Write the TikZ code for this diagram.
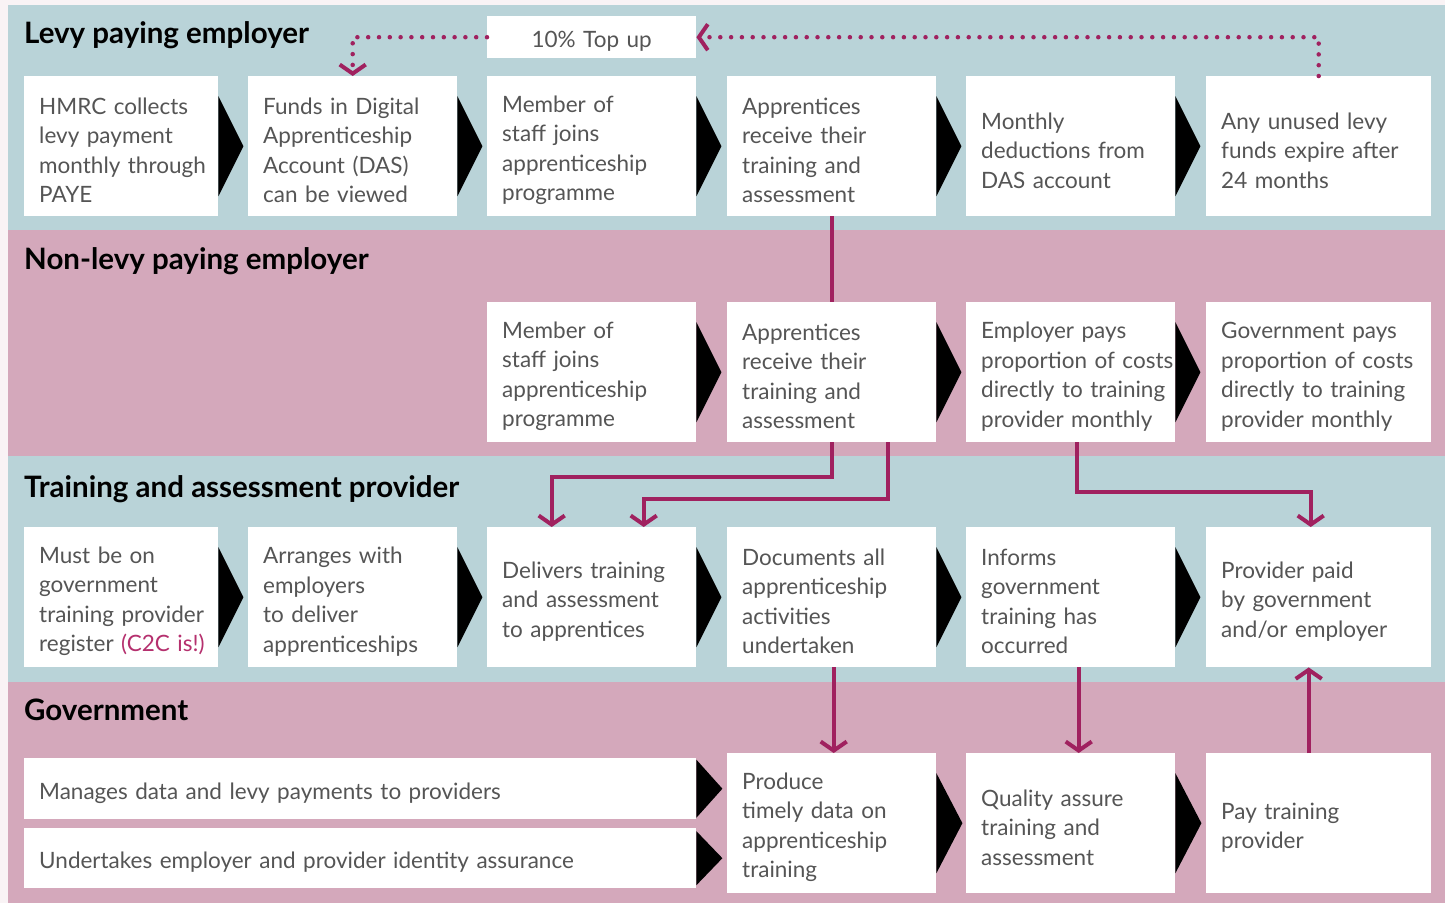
\documentclass[tikz,border=0pt]{standalone}
\usepackage{fontspec}
\setmainfont{Lato}
\usepackage{xcolor}
\usepackage{tikz}
\usetikzlibrary{positioning,arrows.meta}

\definecolor{levyblue}{HTML}{B9D3D8}
\definecolor{levypink}{HTML}{D4A8BB}
\definecolor{plum}{HTML}{A0215F}
\definecolor{cc}{HTML}{B5306E}
\definecolor{inkgray}{HTML}{555555}
\definecolor{pagetint}{HTML}{F9F3F5}

\begin{document}
\begin{tikzpicture}[x=1pt,y=-1pt,
  stage/.style={fill=white, anchor=north west, minimum height=140pt,
    minimum width=209pt, text width=179pt, inner xsep=15pt, inner ysep=0pt,
    align=left, text=inkgray, font=\fontsize{22.5}{29.5}\selectfont,
    execute at begin node={\hyphenpenalty=10000\exhyphenpenalty=10000\rule{0pt}{25pt}}},
  narrow/.style={minimum width=194pt, text width=164pt},
  broad/.style={minimum width=225pt, text width=195pt},
  strip/.style={stage, minimum width=672pt, text width=642pt},
  lane/.style={anchor=base west, inner sep=0pt, font=\bfseries\fontsize{29.5}{32}\selectfont},
  flow/.style={draw=plum, line width=4pt, -{Straight Barb[length=9pt,width=26pt]}},
  dots/.style={draw=plum, line width=4.5pt, line cap=round, dash pattern=on 0pt off 10.8pt,
    -{Straight Barb[length=9pt,width=26pt,line width=4pt]}}
]
\useasboundingbox (0,0) rectangle (1445,903);
\fill[pagetint] (0,0) rectangle (1445,903);
% four lanes
\fill[levyblue] (8,5) rectangle (1445,230);
\fill[levypink] (8,230) rectangle (1445,456);
\fill[levyblue] (8,456) rectangle (1445,682);
\fill[levypink] (8,682) rectangle (1445,903);

\node[lane] (l1) at (24,43) {Levy paying employer};
\node[lane] (l2) at (24,269) {Non-levy paying employer};
\node[lane] (l3) at (24,497) {Training and assessment provider};
\node[lane] (l4) at (24,720) {Government};

% levy paying employer
\node[stage, minimum height=42pt, align=center] (topup) at (487,16) {10\% Top up};
\node[stage, narrow] (hmrc) at (24,76) {HMRC collects\\levy payment\\monthly~through\\PAYE};
\node[stage] (das) at (248,76) {Funds in Digital\\Apprenticeship\\Account (DAS)\\can be viewed};
\node[stage] (joinL) at (487,76) {Member of\\staff joins\\apprenticeship\\programme};
\node[stage] (trainL) at (727,76) {Apprentices\\receive their\\training and\\assessment};
\node[stage] (deduct) at (966,76) {Monthly\\deductions~from\\DAS account};
\node[stage, broad] (expire) at (1206,76) {Any unused levy\\funds~expire~after\\24 months};

% non-levy paying employer
\node[stage] (joinN) at (487,302) {Member of\\staff joins\\apprenticeship\\programme};
\node[stage] (trainN) at (727,302) {Apprentices\\receive their\\training and\\assessment};
\node[stage] (emppays) at (966,302) {Employer pays\\proportion~of~costs\\directly~to~training\\provider monthly};
\node[stage, broad] (govpays) at (1206,302) {Government pays\\proportion~of~costs\\directly~to~training\\provider monthly};

% provider
\node[stage, narrow] (register) at (24,527) {Must be on\\government\\training~provider\\register~\textcolor{cc}{(C2C~is!)}};
\node[stage] (arranges) at (248,527) {Arranges with\\employers\\to deliver\\apprenticeships};
\node[stage] (delivers) at (487,527) {Delivers~training\\and~assessment\\to apprentices};
\node[stage] (documents) at (727,527) {Documents all\\apprenticeship\\activities\\undertaken};
\node[stage] (informs) at (966,527) {Informs\\government\\training has\\occurred};
\node[stage, broad] (paid) at (1206,527) {Provider paid\\by government\\and/or employer};

% government
\node[strip, minimum height=61pt] (manages) at (24,758) {Manages data and levy payments to providers};
\node[strip, minimum height=60pt] (identity) at (24,828) {Undertakes employer and provider identity assurance};
\node[stage] (produce) at (727,753) {Produce\\timely~data~on\\apprenticeship\\training};
\node[stage] (quality) at (966,753) {Quality assure\\training and\\assessment};
\node[stage, broad] (pay) at (1206,753) {Pay training\\provider};

% black step arrows
\foreach \n/\h/\w in {hmrc/50/25, das/50/25, joinL/50/25, trainL/50/25, deduct/50/25,
    joinN/50/25, trainN/50/25, emppays/50/25,
    register/50/25, arranges/50/25, delivers/50/25, documents/50/25, informs/50/25,
    produce/50/26, quality/50/26, manages/29/26, identity/27/26}
  \fill[black] (\n.east) ++(0,-\h) -- ++(\w,\h) -- ++(-\w,\h) -- cycle;

% top up loop
\draw[dots] (topup.west) -| (das.north);
\draw[dots] (expire.north) |- (topup.east);

% money and data flows
\draw[draw=plum, line width=4pt] (trainL.south) -- (trainN.north);
\draw[flow] (trainN.south) -- ++(0,35) -| ([xshift=-40pt]delivers.north);
\draw[flow] ([xshift=56pt]trainN.south) -- ++(0,57) -| ([xshift=52pt]delivers.north);
\draw[flow] ([xshift=6pt]emppays.south) -- ++(0,50) -| ([xshift=-8pt]paid.north);
\draw[flow] ([xshift=2pt]documents.south) -- ([xshift=2pt]produce.north);
\draw[flow] ([xshift=8pt]informs.south) -- ([xshift=8pt]quality.north);
\draw[flow] ([xshift=-10pt]pay.north) -- ([xshift=-10pt]paid.south);
\end{tikzpicture}
\end{document}
